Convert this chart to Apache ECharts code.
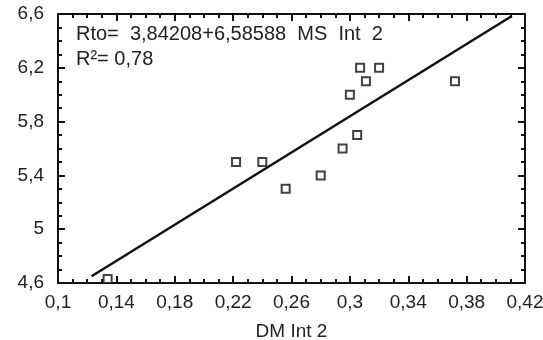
<!DOCTYPE html>
<html>
<head>
<meta charset="utf-8">
<script src="https://cdn.jsdelivr.net/npm/echarts@6/dist/echarts.min.js"></script>
<style>
  html, body { margin: 0; padding: 0; background: #fff; }
  #chart { width: 543px; height: 340px; }
</style>
</head>
<body>
<div id="chart"></div>
<script>
// observed points (DM Int 2, Rto)
const dmValues = [0.134, 0.222, 0.24, 0.256, 0.28, 0.295, 0.3, 0.305, 0.307, 0.311, 0.32, 0.372];
const rtoValues = [4.63, 5.5, 5.5, 5.3, 5.4, 5.6, 6.0, 5.7, 6.2, 6.1, 6.2, 6.1];

// fitted line ends, as drawn
const fitX = [0.123, 0.411];
const fitY = [4.65, 6.585];

const equationText = 'Rto=  3,84208+6,58588  MS  Int  2';
const r2Text = 'R\u00B2= 0,78';
const xAxisName = 'DM Int 2';

const fontFamily = '"Liberation Sans", Arial, sans-serif';
const ink = '#111';

const commaFormat = (v) => String(v).replace('.', ',');

const scatterData = dmValues.map((x, i) => [x, rtoValues[i]]);
const lineData = fitX.map((x, i) => [x, fitY[i]]);

const xRange = { type: 'value', min: 0.1, max: 0.42, interval: 0.04 };
const yRange = { type: 'value', min: 4.6, max: 6.6, interval: 0.4 };

const chart = echarts.init(document.getElementById('chart'));

// grid 0 draws the boxed frame with inward ticks (labels left empty),
// grid 1 sits on the same rectangle and only carries the tick labels
const frameAxis = {
  gridIndex: 0,
  axisLine: { show: true, onZero: false, lineStyle: { color: ink, width: 2 } },
  axisTick: { show: true, inside: true, length: 7, lineStyle: { color: ink, width: 2 } },
  minorTick: { show: true, splitNumber: 4, length: 4, lineStyle: { color: ink, width: 2 } },
  axisLabel: { show: true, formatter: () => '' },
  splitLine: { show: false },
};

const labelAxis = {
  gridIndex: 1,
  axisLine: { show: false, onZero: false },
  axisTick: { show: false },
  minorTick: { show: false },
  splitLine: { show: false },
};

const labelStyle = { fontFamily: fontFamily, fontSize: 19, color: '#222', formatter: commaFormat };

const plotRect = { left: 58, right: 18, top: 14, bottom: 57, outerBoundsMode: 'none' };

const option = {
  animation: false,
  backgroundColor: '#fff',
  grid: [Object.assign({}, plotRect), Object.assign({}, plotRect)],
  graphic: [
    {
      type: 'text',
      left: 76,
      top: 22,
      style: {
        text: equationText + '\n' + r2Text,
        font: '20px "Liberation Sans", Arial, sans-serif',
        fill: '#222',
        lineHeight: 25,
      },
    },
  ],
  xAxis: [
    Object.assign({}, xRange, frameAxis, { position: 'bottom' }),
    Object.assign({}, xRange, frameAxis, { position: 'top' }),
    Object.assign({}, xRange, labelAxis, {
      position: 'bottom',
      name: xAxisName,
      nameLocation: 'middle',
      nameGap: 39,
      nameTextStyle: { fontFamily: fontFamily, fontSize: 19, color: '#222' },
      axisLabel: Object.assign({ margin: 10 }, labelStyle),
    }),
  ],
  yAxis: [
    Object.assign({}, yRange, frameAxis, { position: 'left' }),
    Object.assign({}, yRange, frameAxis, { position: 'right' }),
    Object.assign({}, yRange, labelAxis, {
      position: 'left',
      axisLabel: Object.assign({ margin: 14 }, labelStyle),
    }),
  ],
  series: [
    {
      type: 'line',
      xAxisIndex: 0,
      yAxisIndex: 0,
      data: lineData,
      showSymbol: false,
      lineStyle: { color: ink, width: 2.5 },
      z: 2,
    },
    {
      type: 'scatter',
      xAxisIndex: 0,
      yAxisIndex: 0,
      data: scatterData,
      symbol: 'rect',
      symbolSize: 8,
      itemStyle: { color: '#fff', borderColor: ink, borderWidth: 2 },
      z: 3,
    },
  ],
};

chart.setOption(option);
</script>
</body>
</html>
